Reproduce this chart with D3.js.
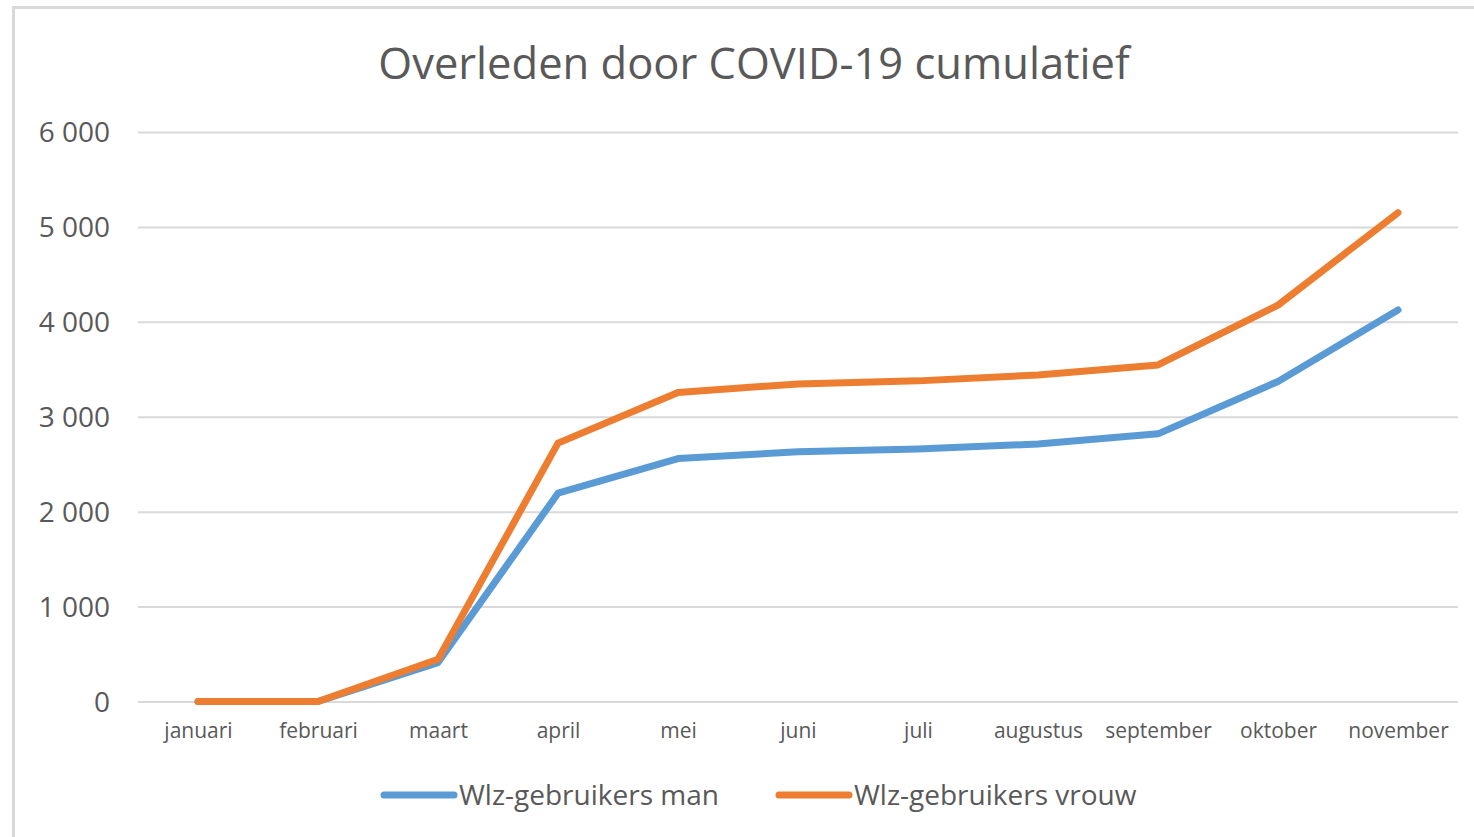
<!DOCTYPE html>
<html>
<head>
<meta charset="utf-8">
<script src="https://cdn.jsdelivr.net/npm/d3@7/dist/d3.min.js"></script>
<style>
  html, body { margin: 0; padding: 0; background: #fff; }
  svg { display: block; }
  text { font-family: "Open Sans", sans-serif; fill: #595959; }
</style>
</head>
<body>
<svg id="chart" width="1474" height="837"></svg>
<script>
const months = ["januari","februari","maart","april","mei","juni","juli","augustus","september","oktober","november"];
const man   = [0, 0, 410, 2195, 2560, 2630, 2660, 2713, 2820, 3372, 4125];
const vrouw = [0, 0, 445, 2722, 3255, 3346, 3378, 3441, 3546, 4176, 5150];
const yTicks = [0, 1000, 2000, 3000, 4000, 5000, 6000];
const seriesNames = ["Wlz-gebruikers man", "Wlz-gebruikers vrouw"];
const colors = ["#5B9BD5", "#ED7D31"];
const title = "Overleden door COVID-19 cumulatief";

const svg = d3.select("#chart");
const W = 1474, H = 837;
const plot = { left: 138, right: 1458, top: 132, bottom: 701.5 };

// outer border
svg.append("rect").attr("x", 13.5).attr("y", 7.5).attr("width", W + 20).attr("height", H + 20)
  .attr("fill", "none").attr("stroke", "#d9d9d9").attr("stroke-width", 3);

const x = d3.scalePoint().domain(months).range([198, 1398]);
const y = d3.scaleLinear().domain([0, 6000]).range([plot.bottom, plot.top]);

const loc = d3.formatLocale({ decimal: ",", thousands: " ", grouping: [3], currency: ["", ""] });
const fmt = loc.format(",d");

// y axis + gridlines
const yAxis = svg.append("g").attr("transform", `translate(${plot.left},0)`)
  .call(d3.axisLeft(y).tickValues(yTicks).tickFormat(fmt).tickSize(-(plot.right - plot.left)).tickPadding(28));
yAxis.select(".domain").remove();
yAxis.selectAll(".tick line").attr("stroke", "#d9d9d9").attr("stroke-width", 2);
yAxis.selectAll(".tick text").attr("font-size", 28).attr("font-family", "Open Sans, sans-serif")
  .attr("fill", "#595959").attr("dy", "0.35em");

// x axis labels
const xAxis = svg.append("g").attr("transform", `translate(0,${plot.bottom})`)
  .call(d3.axisBottom(x).tickSize(0).tickPadding(22));
xAxis.select(".domain").remove();
xAxis.selectAll(".tick text").attr("font-size", 21).attr("font-family", "Open Sans, sans-serif")
  .attr("fill", "#595959");

// lines
const line = d3.line().x((d, i) => x(months[i])).y(d => y(d));
[man, vrouw].forEach((s, k) => {
  svg.append("path").datum(s).attr("d", line).attr("fill", "none")
    .attr("stroke", colors[k]).attr("stroke-width", 7)
    .attr("stroke-linejoin", "round").attr("stroke-linecap", "round");
});

// title
svg.append("text").attr("x", 754).attr("y", 79).attr("text-anchor", "middle")
  .attr("font-size", 43.5).text(title);

// legend
const legendItems = [
  { name: seriesNames[0], color: colors[0], x0: 384 },
  { name: seriesNames[1], color: colors[1], x0: 779 }
];
legendItems.forEach(it => {
  svg.append("line").attr("x1", it.x0).attr("x2", it.x0 + 70).attr("y1", 795).attr("y2", 795)
    .attr("stroke", it.color).attr("stroke-width", 7).attr("stroke-linecap", "round");
  svg.append("text").attr("x", it.x0 + 75).attr("y", 805).attr("font-size", 28).text(it.name);
});
</script>
</body>
</html>
